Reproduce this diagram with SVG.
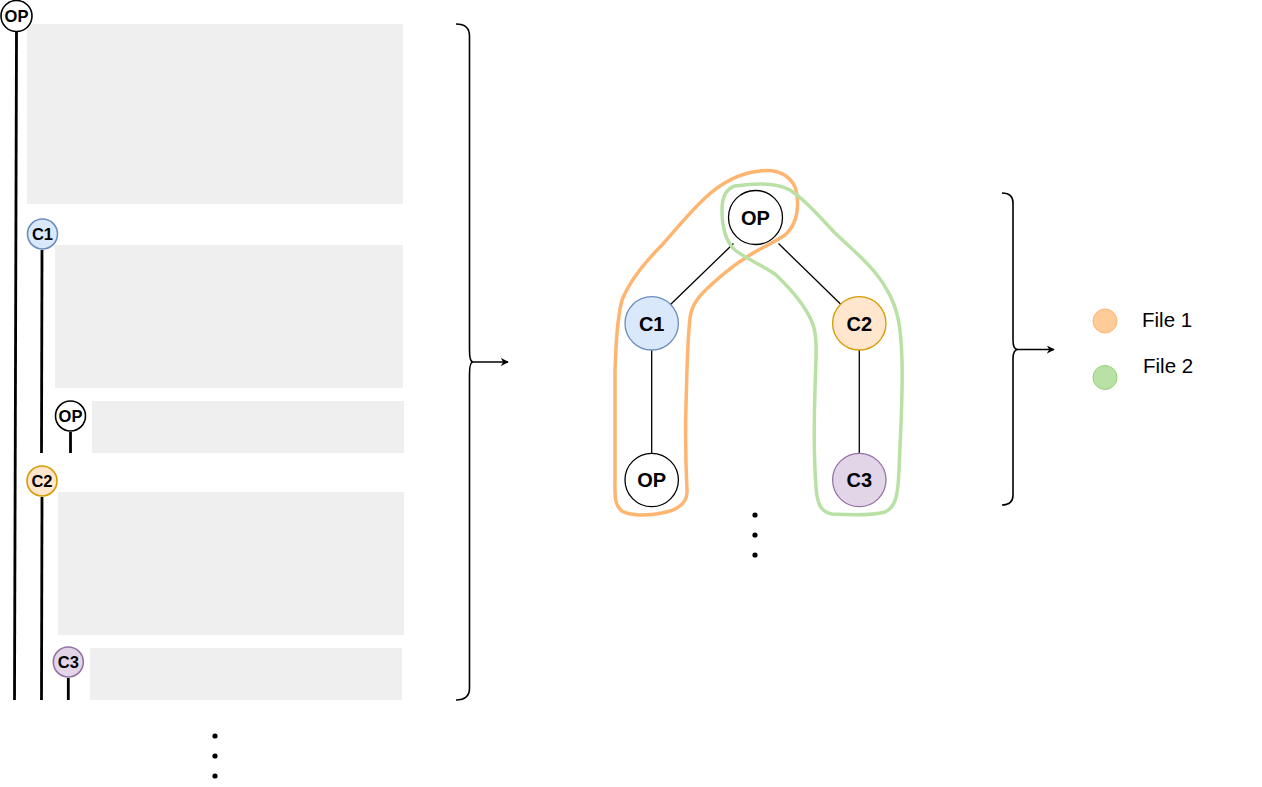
<svg xmlns="http://www.w3.org/2000/svg" width="1262" height="787" viewBox="0 0 1262 787">
<style>
.bg{fill:#efefef;stroke:none}
.stem{stroke:#000;stroke-width:2.8;fill:none}
.sn{stroke-width:1.6}
.bn{stroke-width:1.3}
.st{font-family:"Liberation Sans",Arial,sans-serif;font-weight:bold;font-size:16.5px;text-anchor:middle;dominant-baseline:central;fill:#000}
.bt{font-family:"Liberation Sans",Arial,sans-serif;font-weight:bold;font-size:20px;text-anchor:middle;dominant-baseline:central;fill:#000}
.lt{font-family:"Liberation Sans",Arial,sans-serif;font-size:20.5px;fill:#000}
.op{fill:#fff;stroke:#000}
.c1{fill:#dae8fc;stroke:#6c8ebf}
.c2{fill:#ffe6cc;stroke:#d79b00}
.c3{fill:#e1d5e7;stroke:#9673a6}
.edge{stroke:#000;stroke-width:1.3;fill:none}
.brace{stroke:#000;stroke-width:1.6;fill:none}
.dot{fill:#000}
</style>
<defs>
<marker id="arr" viewBox="0 0 10 10" refX="9" refY="5" markerWidth="8" markerHeight="8" markerUnits="userSpaceOnUse" orient="auto">
<path d="M0,0 L10,5 L0,10 L3,5 Z" fill="#000"/>
</marker>
</defs>
<rect width="1262" height="787" fill="#fff"/>

<!-- left panel -->
<g id="left-blocks">
<rect class="bg" x="27" y="24" width="376" height="180"/>
<rect class="bg" x="55" y="245" width="348" height="143"/>
<rect class="bg" x="92" y="401" width="312" height="52"/>
<rect class="bg" x="58" y="492" width="346" height="143"/>
<rect class="bg" x="90" y="648" width="312" height="52"/>
</g>
<g id="left-stems">
<path class="stem" d="M16.5,32 L14.5,700"/>
<path class="stem" d="M42,250 L41.5,453"/>
<path class="stem" d="M70.5,432 L70.5,453"/>
<path class="stem" d="M42,497 L41.5,700"/>
<path class="stem" d="M68.3,678 L68.3,700"/>
</g>
<g id="left-op-top"><circle class="op sn" cx="16.5" cy="16" r="15.5"/><text class="st" x="16.5" y="16">OP</text></g>
<g id="left-c1"><circle class="c1 sn" cx="42.5" cy="234" r="15"/><text class="st" x="42.5" y="234">C1</text></g>
<g id="left-op-small"><circle class="op sn" cx="70.5" cy="416" r="15"/><text class="st" x="70.5" y="416">OP</text></g>
<g id="left-c2"><circle class="c2 sn" cx="42" cy="481" r="15"/><text class="st" x="42" y="481">C2</text></g>
<g id="left-c3"><circle class="c3 sn" cx="68.3" cy="662" r="15"/><text class="st" x="68.3" y="662">C3</text></g>
<g id="left-dots">
<circle class="dot" cx="215" cy="736" r="2.6"/>
<circle class="dot" cx="215" cy="756" r="2.6"/>
<circle class="dot" cx="215" cy="776" r="2.6"/>
</g>

<!-- braces and arrows -->
<g id="connectors">
<path class="brace" d="M456,24 Q469.5,24 469.5,36 L469.5,350 Q469.5,362 473,362 Q469.5,362 469.5,374 L469.5,688 Q469.5,700 456,700"/>
<path class="edge" d="M473,362 L508,362" marker-end="url(#arr)"/>
<path class="brace" d="M1002,193 Q1013,193 1013,203 L1013,340 Q1013,349.5 1018,349.5 Q1013,349.5 1013,359 L1013,495 Q1013,505 1002,505"/>
<path class="edge" d="M1018,349.5 L1054,349.5" marker-end="url(#arr)"/>
<line class="edge" x1="733.5" y1="243.5" x2="670" y2="305"/>
<line class="edge" x1="778.5" y1="243.5" x2="840.5" y2="304"/>
<line class="edge" x1="651.7" y1="350" x2="651.7" y2="453.3"/>
<line class="edge" x1="859.3" y1="350" x2="859.3" y2="453.3"/>
</g>

<!-- outlines -->
<g id="file1-outline">
<path fill="none" stroke="#ffb570" stroke-width="3.5" stroke-linejoin="round" d="M760,171 C780,168 795,178 797,195 C799,212 795,226 785,235 C772,244 760,248 747,257 C732,266 722,275 712,284 C700,295 692,303 690,318 C687,345 687,375 686,405 C685,440 686,470 687,490 C688,503 678,510 662,513 C648,516 630,516 622,511 C614,505 615,495 615,480 C615,440 615,400 615,370 C616,345 617,320 622,300 C630,280 645,262 662,245 C677,228 690,212 705,198 C722,182 740,173 760,171 Z"/>
</g>
<g id="file2-outline">
<path fill="none" stroke="#b9e0a5" stroke-width="3.5" stroke-linejoin="round" d="M735,186 C755,183 776,182 790,190 C805,200 818,215 835,233 C855,252 875,268 887,290 C899,310 901,330 902,360 C903,400 900,440 899,470 C898,495 896,507 885,512 C870,516 848,515 832,514 C820,512 817,502 816,487 C814,460 814,420 815,390 C816,355 818,336 812,322 C805,305 792,290 775,274 C760,264 745,258 735,250 C724,240 722,225 722,210 C722,198 725,189 735,186 Z"/>
</g>

<!-- right tree nodes -->
<g id="tree-op-root"><circle class="op bn" cx="755.5" cy="217.5" r="27"/><text class="bt" x="755.5" y="218">OP</text></g>
<g id="tree-c1"><circle class="c1 bn" cx="651.7" cy="323.3" r="26.7"/><text class="bt" x="651.7" y="324">C1</text></g>
<g id="tree-c2"><circle class="c2 bn" cx="859.3" cy="323.3" r="26.7"/><text class="bt" x="859.3" y="324">C2</text></g>
<g id="tree-op-leaf"><circle class="op bn" cx="651.7" cy="480" r="26.7"/><text class="bt" x="651.7" y="480">OP</text></g>
<g id="tree-c3"><circle class="c3 bn" cx="859.3" cy="480" r="26.7"/><text class="bt" x="859.3" y="480">C3</text></g>
<g id="tree-dots">
<circle class="dot" cx="755" cy="515" r="2.6"/>
<circle class="dot" cx="755" cy="535" r="2.6"/>
<circle class="dot" cx="755" cy="555" r="2.6"/>
</g>

<!-- legend -->
<g id="legend-file1">
<circle cx="1105" cy="321" r="12" fill="#ffcc99" stroke="#ffb570" stroke-width="1"/>
<text class="lt" x="1142" y="327">File 1</text>
</g>
<g id="legend-file2">
<circle cx="1105" cy="377.5" r="12" fill="#b9e0a5" stroke="#97d077" stroke-width="1"/>
<text class="lt" x="1143" y="373">File 2</text>
</g>
</svg>
